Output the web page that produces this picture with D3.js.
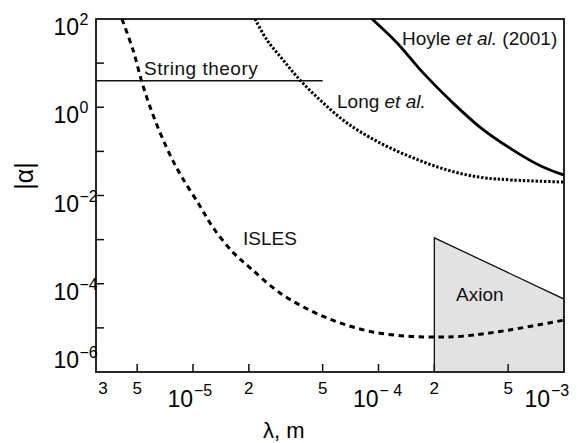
<!DOCTYPE html>
<html>
<head>
<meta charset="utf-8">
<script src="https://cdn.jsdelivr.net/npm/d3@7"></script>
<style>
  html, body { margin: 0; padding: 0; background: #fff; }
  svg { display: block; font-family: "Liberation Sans", Arial, Helvetica, sans-serif; }
</style>
</head>
<body>
<svg id="chart" width="577" height="443"></svg>
<script>
// Range λ (m) and coupling |α| limits
const lambdaDomain = [3e-6, 1e-3];
const alphaDomain = [1e-6, 1e2];

// ISLES projected sensitivity (dashed)
const islesLambda = [4.14e-6, 4.75e-6, 5.38e-6, 6.24e-6, 7.52e-6, 8.72e-6, 1.09e-5, 1.28e-5, 1.64e-5, 2.03e-5, 2.94e-5, 4.27e-5, 6.2e-5, 9.3e-5, 1.42e-4, 2.02e-4, 2.85e-4, 5.1e-4, 1e-3];
const islesAlpha  = [100, 19.8, 3.03, 0.51, 0.083, 0.026, 5.8e-3, 1.9e-3, 5.2e-4, 2.3e-4, 6.2e-5, 2.5e-5, 1.3e-5, 8.1e-6, 6.5e-6, 6.2e-6, 6.5e-6, 9.0e-6, 1.5e-5];

// Long et al. limit (dotted)
const longLambda = [2.16e-5, 2.51e-5, 3.06e-5, 3.77e-5, 4.84e-5, 6.76e-5, 1.02e-4, 1.54e-4, 2.34e-4, 3.52e-4, 5.3e-4, 1e-3];
const longAlpha  = [100, 33, 11.8, 4.15, 1.46, 0.44, 0.155, 0.071, 0.038, 0.026, 0.0224, 0.0202];

// Hoyle et al. (2001) limit (solid)
const hoyleLambda = [9.23e-5, 1.26e-4, 1.74e-4, 2.52e-4, 3.52e-4, 5.31e-4, 7.71e-4, 1e-3];
const hoyleAlpha  = [100, 28.6, 6.0, 1.25, 0.356, 0.107, 0.044, 0.029];

// Axion region (shaded)
const axionLambda = [2e-4, 2e-4, 1e-3, 1e-3];
const axionAlpha  = [1e-6, 1.1e-3, 4.5e-5, 1e-6];

// String theory prediction (horizontal line)
const stringLambda = [3e-6, 5e-5];
const stringAlpha  = [4, 4];

// Axis ticks
const xMinorTicks = [5e-6, 2e-5, 5e-5, 2e-4, 5e-4];
const xMinorLabels = ["5", "2", "5", "2", "5"];
const xCornerLabel = "3";
const xDecadeTicks = [1e-5, 1e-4, 1e-3];
const xDecadeExp = ["\u22125", "\u2212 4", "\u22123"];
const yDecadeTicks = [1e2, 1, 1e-2, 1e-4, 1e-6];
const yDecadeExp = ["2", "0", "\u22122", "\u22124", "\u22126"];
const yMinorTicks = [1e1, 1e-1, 1e-3, 1e-5];

const svg = d3.select("#chart");
const m = { left: 96, right: 564, top: 19, bottom: 372 };

const x = d3.scaleLog().domain(lambdaDomain).range([m.left, m.right]);
const y = d3.scaleLog().domain(alphaDomain).range([m.bottom, m.top]);

const zip = (a, b) => a.map((v, i) => [v, b[i]]);

svg.append("defs").append("clipPath").attr("id", "plot")
  .append("rect").attr("x", m.left).attr("y", m.top)
  .attr("width", m.right - m.left).attr("height", m.bottom - m.top);

const plot = svg.append("g").attr("clip-path", "url(#plot)");

// Axion shaded region
const axionPts = zip(axionLambda, axionAlpha);
plot.append("path")
  .attr("d", d3.line().x(d => x(d[0])).y(d => y(d[1]))(axionPts) + "Z")
  .attr("fill", "#e2e2e2").attr("stroke", "none");
plot.append("path")
  .attr("d", d3.line().x(d => x(d[0])).y(d => y(d[1]))(axionPts.slice(0, 3)))
  .attr("fill", "none").attr("stroke", "#111").attr("stroke-width", 1.3);

const curve = d3.line().x(d => x(d[0])).y(d => y(d[1])).curve(d3.curveCatmullRom.alpha(0.5));

// String theory line
plot.append("path")
  .attr("d", d3.line().x(d => x(d[0])).y(d => y(d[1]))(zip(stringLambda, stringAlpha)))
  .attr("fill", "none").attr("stroke", "#111").attr("stroke-width", 1.5);

// Hoyle et al.
plot.append("path").attr("d", curve(zip(hoyleLambda, hoyleAlpha)))
  .attr("fill", "none").attr("stroke", "#000").attr("stroke-width", 2.8);

// Long et al.
plot.append("path").attr("d", curve(zip(longLambda, longAlpha)))
  .attr("fill", "none").attr("stroke", "#000").attr("stroke-width", 3)
  .attr("stroke-dasharray", "2.4,1.8");

// ISLES
plot.append("path").attr("d", curve(zip(islesLambda, islesAlpha)))
  .attr("fill", "none").attr("stroke", "#000").attr("stroke-width", 3)
  .attr("stroke-dasharray", "5.5,4.5");

// Frame
svg.append("rect").attr("x", m.left).attr("y", m.top)
  .attr("width", m.right - m.left).attr("height", m.bottom - m.top)
  .attr("fill", "none").attr("stroke", "#111").attr("stroke-width", 1.8);

// X ticks (inward)
const tickLen = 8;
svg.append("g").selectAll("line").data(xMinorTicks.concat(xDecadeTicks.slice(0, 2)))
  .join("line")
  .attr("x1", d => x(d)).attr("x2", d => x(d))
  .attr("y1", m.bottom).attr("y2", m.bottom - tickLen)
  .attr("stroke", "#111").attr("stroke-width", 1.5);

// Y ticks (inward)
svg.append("g").selectAll("line").data(yDecadeTicks.slice(1, 4).concat(yMinorTicks))
  .join("line")
  .attr("x1", m.left).attr("x2", m.left + tickLen)
  .attr("y1", d => y(d)).attr("y2", d => y(d))
  .attr("stroke", "#111").attr("stroke-width", 1.5);

// X minor labels
svg.append("g").selectAll("text").data(xMinorTicks)
  .join("text")
  .attr("x", d => x(d)).attr("y", 394)
  .attr("text-anchor", "middle").attr("font-size", 17)
  .text((d, i) => xMinorLabels[i]);
svg.append("text").attr("x", x(lambdaDomain[0]) + 7).attr("y", 394)
  .attr("text-anchor", "middle").attr("font-size", 17).text(xCornerLabel);

// X decade labels: "10" ends at the tick, exponent follows
const xDec = svg.append("g").selectAll("g").data(xDecadeTicks).join("g")
  .attr("transform", (d, i) => `translate(${x(d) - (i === 2 ? 14 : 0)},0)`);
xDec.append("text").attr("x", 0).attr("y", 407)
  .attr("text-anchor", "end").attr("font-size", 23).text("10");
xDec.append("text").attr("x", 1).attr("y", 396)
  .attr("text-anchor", "start").attr("font-size", 16)
  .text((d, i) => xDecadeExp[i]);

// Y decade labels
const yDec = svg.append("g").selectAll("g").data(yDecadeTicks).join("g")
  .attr("transform", (d, i) => `translate(0,${i === 4 ? y(d) - 4 : y(d) + 16})`);
yDec.append("text").attr("x", 79).attr("y", 0)
  .attr("text-anchor", "end").attr("font-size", 23).text("10");
yDec.append("text").attr("x", 79.5).attr("y", -10)
  .attr("text-anchor", "start").attr("font-size", 16)
  .text((d, i) => yDecadeExp[i]);

// Axis titles
svg.append("text").attr("x", 263).attr("y", 438)
  .attr("font-size", 22).text("\u03bb, m");
svg.append("text")
  .attr("transform", "translate(33,176) rotate(-90)")
  .attr("text-anchor", "middle").attr("font-size", 25).text("|\u03b1|");

// Curve labels
const lab = svg.append("g").attr("font-size", 19).attr("fill", "#111");
lab.append("text").attr("x", 144).attr("y", 75).attr("letter-spacing", 0.5).text("String theory");
const hoy = lab.append("text").attr("x", 402).attr("y", 45);
hoy.append("tspan").text("Hoyle ");
hoy.append("tspan").attr("font-style", "italic").text("et al.");
hoy.append("tspan").text(" (2001)");
const lng = lab.append("text").attr("x", 337).attr("y", 108);
lng.append("tspan").text("Long ");
lng.append("tspan").attr("font-style", "italic").text("et al.");
lab.append("text").attr("x", 243).attr("y", 245).text("ISLES");
lab.append("text").attr("x", 456).attr("y", 301).text("Axion");
</script>
</body>
</html>
